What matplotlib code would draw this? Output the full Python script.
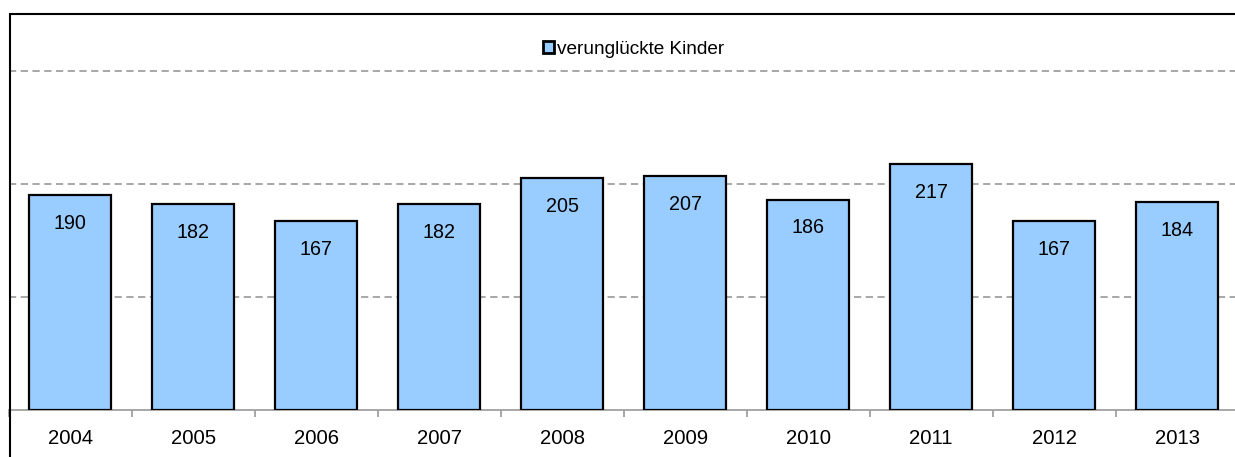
import matplotlib.pyplot as plt
import numpy as np
from matplotlib.patches import Rectangle

years = ["2004", "2005", "2006", "2007", "2008", "2009", "2010", "2011", "2012", "2013"]
children = [190, 182, 167, 182, 205, 207, 186, 217, 167, 184]

plt.rcParams["font.family"] = ["Liberation Sans", "DejaVu Sans"]

W, H = 1235, 457
fig = plt.figure(figsize=(W / 100, H / 100), dpi=100)
ax = fig.add_axes([8.7 / W, (H - 410) / H, 1230 / W, 396 / H])

x = np.arange(len(years))
ax.bar(x, children, width=0.67, color="#99ccff", edgecolor="black",
       linewidth=1.6, label="verunglückte Kinder", zorder=3)
for xi, v in zip(x, children):
    ax.text(xi, v - 25, str(v), ha="center", va="center", fontsize=14.2, zorder=4)

ax.set_xlim(-0.5, len(years) - 0.5)
ax.set_ylim(0, 350)
for gy in (100, 200, 300):
    ax.axhline(gy, color="#a0a0a0", linestyle=(0, (4, 2.5)), linewidth=1.3, zorder=1)

ax.set_yticks([])
ax.set_xticks(x)
ax.set_xticklabels(years, fontsize=14.6)
ax.set_xticks(np.arange(len(years) + 1) - 0.5, minor=True)
ax.tick_params(axis="x", which="major", length=0, pad=13.5)
ax.tick_params(axis="x", which="minor", length=5, color="#a0a0a0", width=1.3)
for s in ("top", "right", "left"):
    ax.spines[s].set_visible(False)
ax.spines["bottom"].set_color("#a0a0a0")
ax.spines["bottom"].set_linewidth(1.3)

leg = ax.legend(loc="upper center", bbox_to_anchor=(0.508, 0.975), frameon=False,
                fontsize=13.7, handlelength=0.6, handleheight=0.6, handletextpad=0.15)
for h in leg.legend_handles:
    h.set_linewidth(2.0)

# outer chart frame (top and left edges visible)
fig.add_artist(Rectangle((9.5 / W, -0.2), 1.5, 1.2 - 13.5 / H, transform=fig.transFigure,
                         fill=False, edgecolor="black", linewidth=1.5, clip_on=False))

fig.savefig("out.png", dpi=100)
